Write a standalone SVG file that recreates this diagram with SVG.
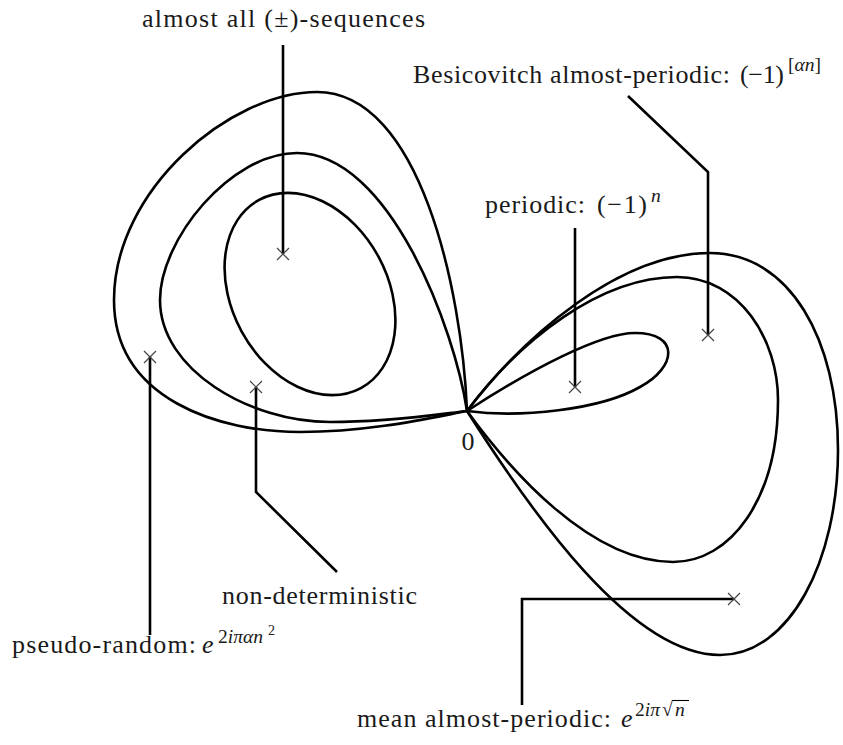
<svg xmlns="http://www.w3.org/2000/svg" width="843" height="745" viewBox="0 0 843 745">
<style>
.c{fill:none;stroke:#000;stroke-width:2.6;stroke-linejoin:round}
.l{fill:none;stroke:#000;stroke-width:2.6}
.x{stroke:#444;stroke-width:1.2}
.t{font-family:'Liberation Serif','Times New Roman',Tinos,'DejaVu Serif','Noto Serif',serif;font-size:26px;fill:#1a1a1a}
.m{font-style:italic}
.s{font-size:19.5px}
.ss{font-size:14px}
</style>
<defs>
<path id="cross" class="x" d="M-6,-6L6,6M-6,6L6,-6"/>
</defs>
<g id="curves">
<path id="left-outer" class="c" d="M467,411 C462,290 420,92 317,92 C230,92 114,190 114,300 C114,400 220,432 300,432 C370,432 430,418 467,411"/>
<path id="left-middle" class="c" d="M467,411 C455,330 390,153 297,153 C230,153 160,240 160,300 C160,370 250,422 330,422 C390,422 440,414 467,411"/>
<ellipse id="left-inner" class="c" cx="310" cy="294" rx="78" ry="107" transform="rotate(-28.4 310 294)"/>
<path id="right-small" class="c" d="M467,411 C530,370 600,333 635,333 C680,333 677,367 640,387 C600,410 520,418 467,411"/>
<path id="right-middle" class="c" d="M467,411 C520,340 600,277 677,277 C740,277 778,340 778,400 C778,500 730,562 673,562 C590,562 510,470 467,411"/>
<path id="right-outer" class="c" d="M467,411 C525,335 620,253 710,253 C790,253 838,340 838,450 C838,560 790,655 720,655 C630,655 530,510 467,411"/>
</g>
<g id="connectors">
<path class="l" d="M283,45V254"/>
<path class="l" d="M628,96L708,172V335"/>
<path class="l" d="M575,228V387"/>
<path class="l" d="M256,387V492L337,572"/>
<path class="l" d="M150,357V635"/>
<path class="l" d="M734,599H522V705"/>
</g>
<g id="marks">
<use href="#cross" x="283" y="254"/>
<use href="#cross" x="708" y="335"/>
<use href="#cross" x="575" y="387"/>
<use href="#cross" x="256" y="387"/>
<use href="#cross" x="150" y="357"/>
<use href="#cross" x="734" y="599"/>
</g>
<g class="t">
<g id="node-origin"><text x="468" y="450" text-anchor="middle">0</text></g>
<g id="node-almost-all"><text x="142" y="27" textLength="283">almost all (±)-sequences</text></g>
<g id="node-besicovitch">
<text x="413" y="83" textLength="317">Besicovitch almost-periodic:</text>
<text x="740" y="83" textLength="44">(−1)</text>
<text class="s" x="788" y="71">[<tspan class="m">αn</tspan>]</text>
</g>
<g id="node-periodic">
<text x="485" y="213" textLength="100">periodic:</text>
<text x="597" y="213" textLength="50">(−1)</text>
<text class="s m" x="651" y="202">n</text>
</g>
<g id="node-nondeterministic"><text x="222" y="604" textLength="195">non-deterministic</text></g>
<g id="node-pseudorandom">
<text x="12" y="653" textLength="184">pseudo-random:</text>
<text class="m" x="202" y="653">e</text>
<text class="s" x="218" y="643">2<tspan class="m">iπαn</tspan></text>
<text class="ss" x="268" y="635">2</text>
</g>
<g id="node-mean">
<text x="357" y="727" textLength="254">mean almost-periodic:</text>
<text class="m" x="621" y="727">e</text>
<text class="s" x="635" y="716">2<tspan class="m">iπ</tspan></text>
<text class="s" x="662" y="716">√</text>
<text class="s m" x="675" y="716">n</text>
<line x1="672" y1="700.5" x2="689" y2="700.5" stroke="#000" stroke-width="1.1"/>
</g>
</g>
</svg>
